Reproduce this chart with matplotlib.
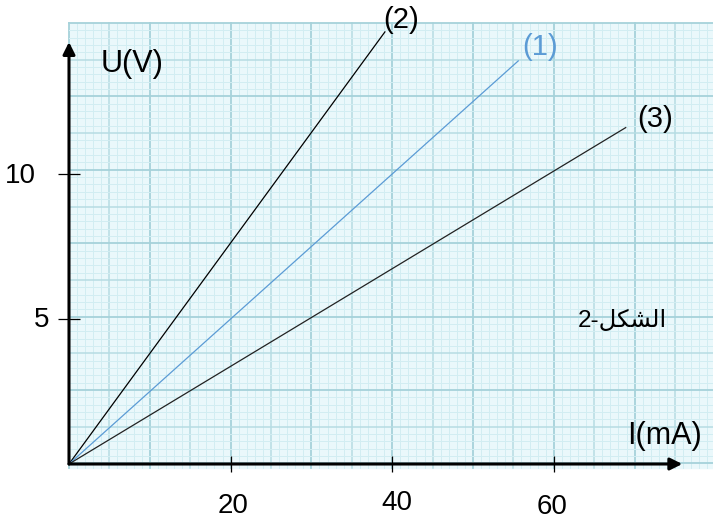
import matplotlib
matplotlib.use("Agg")
import matplotlib.pyplot as plt
import numpy as np

# donnees (I en mA, U en V)
I1 = [0, 55.6]
U1 = [0, 13.9]
I2 = [0, 39.1]
U2 = [0, 14.9]
I3 = [0, 68.9]
U3 = [0, 11.6]
xticks = [20, 40, 60]
yticks = [5, 10]

W, H = 713, 526
plt.rcParams['font.family'] = ['Liberation Sans', 'DejaVu Sans']
fig = plt.figure(figsize=(W / 100, H / 100), dpi=100)

# fond papier millimetre (coordonnees pixel)
bg = fig.add_axes([0, 0, 1, 1])
bg.set_xlim(0, W)
bg.set_ylim(H, 0)
bg.axis('off')
x0, x1, y0, y1 = 69, W, 23, 468
bg.add_patch(plt.Rectangle((x0, y0), x1 - x0, y1 - y0, color='#eaf8fb', zorder=0))
dx = 40.4 / 5
dy = 36.7 / 5
for k, x in enumerate(np.arange(x0, x1, dx)):
    if k % 10 == 0:
        c, lw = '#a6d2da', 1.3
    elif k % 5 == 0:
        c, lw = '#b6dce3', 1.1
    else:
        c, lw = '#d2edf2', 0.7
    bg.plot([x, x], [y0, y1], color=c, lw=lw, zorder=1)
for k, y in enumerate(np.arange(y0, y1, dy)):
    if k % 10 == 0:
        c, lw = '#a6d2da', 1.3
    elif k % 5 == 0:
        c, lw = '#b6dce3', 1.1
    else:
        c, lw = '#d2edf2', 0.7
    bg.plot([x0, x1], [y, y], color=c, lw=lw, zorder=1)

# axes principaux : 8.08 px par mA, 29 px par V, origine a (69, 464)
ax = fig.add_axes([69 / W, 62 / H, 78 * 8.08 / W, 16 * 29 / H])
ax.set_xlim(0, 78)
ax.set_ylim(0, 16)
ax.patch.set_alpha(0)
for s in ax.spines.values():
    s.set_visible(False)

ax.plot(I2, U2, color='black', lw=0.9, clip_on=False)
ax.plot(I1, U1, color='#5b9bd5', lw=0.9, clip_on=False)
ax.plot(I3, U3, color='#222222', lw=0.9, clip_on=False)

# axes avec fleches
arr = dict(arrowstyle='-|>', lw=2.2, color='black', mutation_scale=18, shrinkA=0, shrinkB=0)
ax.annotate('', xy=(75.9, 0), xytext=(0, 0), arrowprops=arr, annotation_clip=False)
ax.annotate('', xy=(0, 14.55), xytext=(0, 0), arrowprops=arr, annotation_clip=False)

ax.set_xticks(xticks)
ax.set_yticks(yticks)
ax.set_xticklabels([])
ax.set_yticklabels([])
ax.tick_params(axis='x', direction='inout', length=12, width=0.9)
ax.tick_params(axis='y', direction='inout', length=16, width=0.9)


def txt(x, y, s, **kw):
    fig.text(x / W, 1 - y / H, s, ha='center', va='center', **kw)


fs = 20
fl = 22
txt(20, 176, '10', fontsize=fs)
txt(42, 320, '5', fontsize=fs)
txt(233, 506, '20', fontsize=fs)
txt(397, 503, '40', fontsize=fs)
txt(552, 507, '60', fontsize=fs)
txt(132, 64, 'U(V)', fontsize=fl)
txt(664, 436, 'I(mA)', fontsize=fl)
txt(401, 20, '(2)', fontsize=21)
txt(540, 47, '(1)', fontsize=21, color='#5b9bd5')
txt(655, 119, '(3)', fontsize=21)
txt(622, 321, '2-\ufede\ufedc\ufeb8\ufedf\ufe8d', fontsize=17.5)

fig.savefig('out.png', dpi=100)
